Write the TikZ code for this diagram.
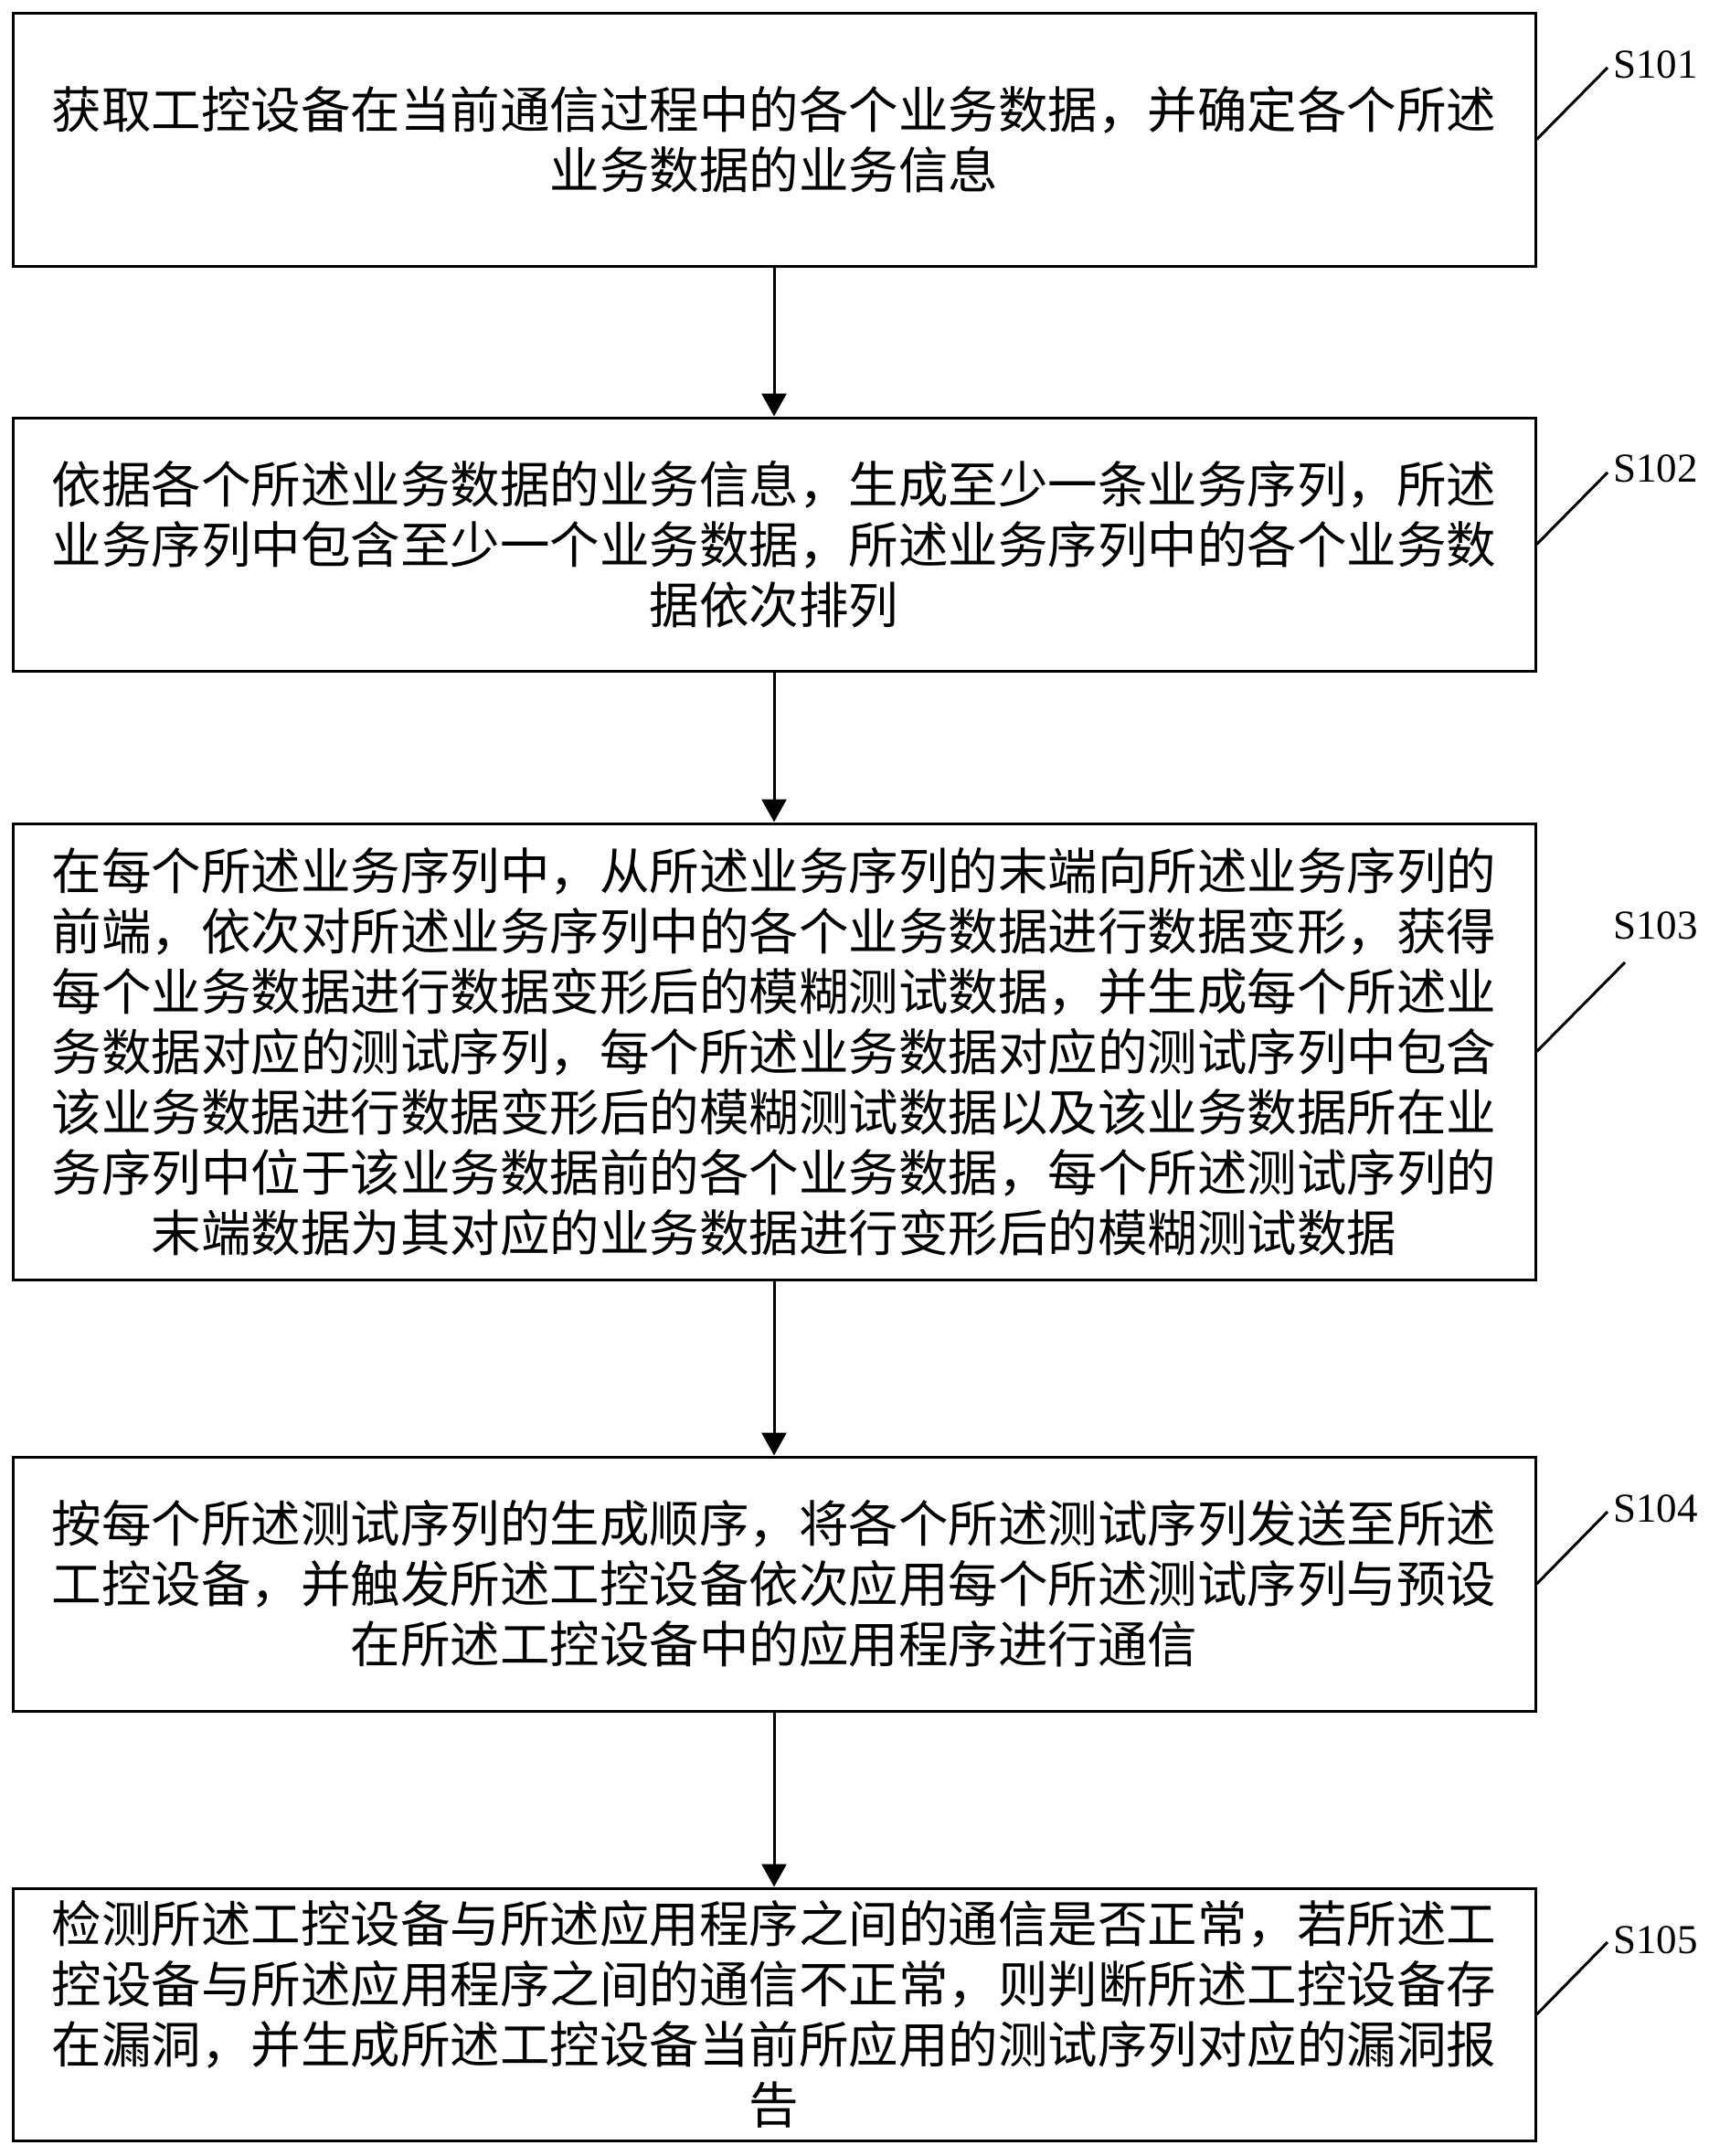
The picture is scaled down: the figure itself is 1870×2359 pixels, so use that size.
\documentclass[tikz,border=0pt]{standalone}
\usepackage{fontspec}
\newfontfamily\cjk{Noto Sans CJK SC}
\newfontfamily\labfont{Liberation Serif}
\usetikzlibrary{arrows.meta}
\begin{document}
\begin{tikzpicture}[x=1pt,y=-1pt,
  stepbox/.style={draw=black, line width=3pt, minimum width=1666pt, inner sep=0pt,
    align=center, font={\cjk\fontsize{54.5}{66}\selectfont}},
  flow/.style={line width=3pt, -{Triangle[width=27pt,length=25pt]}},
  leader/.style={line width=3pt},
  steplabel/.style={anchor=base west, inner sep=0pt, font={\labfont\fontsize{45}{50}\selectfont}}]
\useasboundingbox[fill=white] (0,0) rectangle (1870,2359);

\node[stepbox, minimum height=277pt] (b1) at (847,152.5)
  {获取工控设备在当前通信过程中的各个业务数据，并确定各个所述\\业务数据的业务信息};
\node[stepbox, minimum height=277pt] (b2) at (847,595.5)
  {依据各个所述业务数据的业务信息，生成至少一条业务序列，所述\\业务序列中包含至少一个业务数据，所述业务序列中的各个业务数\\据依次排列};
\node[stepbox, minimum height=499pt] (b3) at (847,1150.5)
  {在每个所述业务序列中，从所述业务序列的末端向所述业务序列的\\前端，依次对所述业务序列中的各个业务数据进行数据变形，获得\\每个业务数据进行数据变形后的模糊测试数据，并生成每个所述业\\务数据对应的测试序列，每个所述业务数据对应的测试序列中包含\\该业务数据进行数据变形后的模糊测试数据以及该业务数据所在业\\务序列中位于该业务数据前的各个业务数据，每个所述测试序列的\\末端数据为其对应的业务数据进行变形后的模糊测试数据};
\node[stepbox, minimum height=278pt] (b4) at (847,1733)
  {按每个所述测试序列的生成顺序，将各个所述测试序列发送至所述\\工控设备，并触发所述工控设备依次应用每个所述测试序列与预设\\在所述工控设备中的应用程序进行通信};
\node[stepbox, minimum height=276pt] (b5) at (847,2204)
  {检测所述工控设备与所述应用程序之间的通信是否正常，若所述工\\控设备与所述应用程序之间的通信不正常，则判断所述工控设备存\\在漏洞，并生成所述工控设备当前所应用的测试序列对应的漏洞报\\告};

\draw[flow] (b1.south) -- (b2.north);
\draw[flow] (b2.south) -- (b3.north);
\draw[flow] (b3.south) -- (b4.north);
\draw[flow] (b4.south) -- (b5.north);

\coordinate (e1) at (1759,74);
\coordinate (e2) at (1759,517);
\coordinate (e3) at (1778,1053);
\coordinate (e4) at (1759,1654);
\coordinate (e5) at (1759,2125);
\draw[leader] (b1.east) -- (e1);
\draw[leader] (b2.east) -- (e2);
\draw[leader] (b3.east) -- (e3);
\draw[leader] (b4.east) -- (e4);
\draw[leader] (b5.east) -- (e5);

\node[steplabel] (s1) at (1765,85) {S101};
\node[steplabel] (s2) at (1765,527) {S102};
\node[steplabel] (s3) at (1765,1027) {S103};
\node[steplabel] (s4) at (1765,1665) {S104};
\node[steplabel] (s5) at (1765,2137) {S105};
\end{tikzpicture}
\end{document}
